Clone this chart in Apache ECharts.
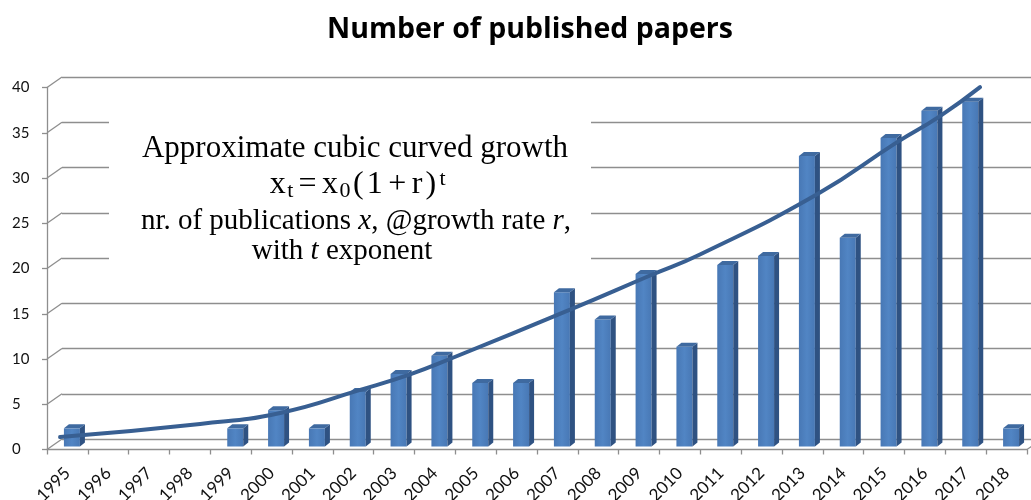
<!DOCTYPE html>
<html>
<head>
<meta charset="utf-8">
<script src="https://cdn.jsdelivr.net/npm/echarts@6/dist/echarts.min.js"></script>
<style>html,body{margin:0;padding:0;background:#fff}#c{width:1031px;height:500px}</style>
</head>
<body>
<div id="c"></div>
<script>
const categories = ['1995','1996','1997','1998','1999','2000','2001','2002','2003','2004','2005','2006','2007','2008','2009','2010','2011','2012','2013','2014','2015','2016','2017','2018'];
const papers = [2,0,0,0,2,4,2,6,8,10,7,7,17,14,19,11,20,21,32,23,34,37,38,2];
const yMin = 0, yMax = 40, yStep = 5;
const trendYears  = [1994.71, 1998.14, 2000.10, 2002.06, 2003.28, 2004.33, 2007.20, 2009.16, 2010.38, 2013.25, 2015.21, 2016.26, 2017.24];
const trendValues = [1.05, 2.49, 3.70, 6.24, 7.95, 9.78, 15.08, 18.84, 21.16, 27.79, 33.54, 36.41, 39.6];
const titleText = 'Number of published papers';

const yTickVals = [];
for (let v = yMin; v <= yMax; v += yStep) yTickVals.push(v);

const chart = echarts.init(document.getElementById('c'));
const gridColor = '#8e8e8e';
const DX = 15, DY = 10.5;
const serif = '"Liberation Serif"';

chart.setOption({
  animation: false,
  grid: [
    {left: 62, top: 77, width: 980, height: 362, outerBoundsMode: 'none', containLabel: false},
    {left: 47, top: 87.5, width: 980, height: 362, outerBoundsMode: 'none', containLabel: false},
    {left: 51.5, top: 83.5, width: 980, height: 363, outerBoundsMode: 'none', containLabel: false}
  ],
  xAxis: [
    {gridIndex: 0, type: 'value', min: 0, max: categories.length, show: false},
    {gridIndex: 1, type: 'category', data: categories, boundaryGap: true,
      axisLine: {show: true, lineStyle: {color: gridColor, width: 1.3}},
      axisTick: {show: true, length: 5, interval: 0, lineStyle: {color: gridColor, width: 1.3}},
      axisLabel: {interval: 0, rotate: 45, margin: 21, fontSize: 17, color: '#111', fontFamily: 'Lato'},
      splitLine: {show: false}},
    {gridIndex: 2, type: 'category', data: categories, show: false},
    {gridIndex: 2, type: 'value', min: 1994.5, max: 2018.5, show: false}
  ],
  yAxis: [
    {gridIndex: 0, type: 'value', min: yMin, max: yMax, interval: yStep,
      axisLine: {show: false}, axisTick: {show: false}, axisLabel: {show: false},
      splitLine: {show: true, lineStyle: {color: gridColor, width: 1.3}}},
    {gridIndex: 1, type: 'value', min: yMin, max: yMax, interval: yStep,
      axisLine: {show: true, lineStyle: {color: gridColor, width: 1.3}},
      axisTick: {show: true, length: 5, lineStyle: {color: gridColor, width: 1.3}},
      axisLabel: {align: 'left', margin: 35, fontSize: 15, color: '#111', fontFamily: 'Lato'},
      splitLine: {show: false}},
    {gridIndex: 2, type: 'value', min: yMin, max: yMax, show: false}
  ],
  series: [
    {
      type: 'custom', xAxisIndex: 0, yAxisIndex: 0, silent: true, z: 1,
      data: yTickVals.map(v => [0, v]).concat([[categories.length, 0]]),
      renderItem: function (params, api) {
        const p = api.coord([api.value(0), api.value(1)]);
        return {type: 'line', shape: {x1: p[0] - DX, y1: p[1] + DY, x2: p[0], y2: p[1]},
          style: {stroke: gridColor, lineWidth: 1.3}};
      }
    },
    {
      type: 'custom', xAxisIndex: 2, yAxisIndex: 2, silent: true, z: 3,
      data: papers.map((v, i) => [i, v]),
      renderItem: function (params, api) {
        const v = api.value(1);
        if (!v) return null;
        const top = api.coord([api.value(0), v]);
        const bot = api.coord([api.value(0), 0]);
        const hw = 8, d = 5, dy = 4;
        const l = top[0] - hw, r = top[0] + hw, t = top[1], b = bot[1];
        return {type: 'group', children: [
          {type: 'rect', shape: {x: l, y: t, width: r - l, height: b - t},
            style: {fill: new echarts.graphic.LinearGradient(0, 0, 1, 0, [
              {offset: 0, color: '#4878b5'}, {offset: 0.5, color: '#5185c4'}, {offset: 1, color: '#4878b5'}])}},
          {type: 'polygon', shape: {points: [[r, t], [r + d, t - dy], [r + d, b - dy], [r, b]]},
            style: {fill: '#2f5282'}},
          {type: 'polygon', shape: {points: [[l, t], [l + d, t - dy], [r + d, t - dy], [r, t]]},
            style: {fill: '#3f6aa0'}}
        ]};
      }
    },
    {
      type: 'line', xAxisIndex: 3, yAxisIndex: 2, z: 5, smooth: 0.5, showSymbol: false, silent: true,
      data: trendYears.map((x, i) => [x, trendValues[i]]),
      lineStyle: {color: '#385f92', width: 4, cap: 'round'}
    }
  ],
  graphic: [
    {type: 'text', z: 20, style: {text: titleText, x: 530, y: 30, align: 'center', verticalAlign: 'middle',
      font: 'bold 28.5px "Open Sans"', fill: '#000'}},
    {type: 'rect', z: 10, shape: {x: 109, y: 113, width: 482, height: 155}, style: {fill: '#fff'}},
    {type: 'text', z: 20, style: {text: 'Approximate cubic curved growth', x: 355, y: 149, align: 'center', verticalAlign: 'middle',
      font: '31px ' + serif, fill: '#000'}},
    {type: 'text', z: 20, style: {text: '{a|x}{sub|t}{e|=}{a|x}{sub|0}{a|(}{a|1}{e|+}{a|r}{a|)}{sup|t}', x: 357, y: 185, align: 'center', verticalAlign: 'middle',
      font: '32px ' + serif, fill: '#000',
      rich: {a: {font: '32px ' + serif, lineHeight: 34, padding: [0, 1.5, 0, 1.5]},
             e: {font: '32px ' + serif, lineHeight: 34, padding: [0, 4, 0, 4]},
             sub: {font: '22px ' + serif, verticalAlign: 'bottom', lineHeight: 30, padding: [0, 1, 0, 0]},
             sup: {font: '22px ' + serif, verticalAlign: 'top', lineHeight: 30, padding: [0, 0, 0, 2]}}}},
    {type: 'text', z: 20, style: {text: 'nr. of publications {i|x}, @growth rate {i|r},', x: 356, y: 221, align: 'center', verticalAlign: 'middle',
      font: '29px ' + serif, fill: '#000',
      rich: {i: {font: 'italic 29px ' + serif}}}},
    {type: 'text', z: 20, style: {text: 'with {i|t} exponent', x: 342, y: 251, align: 'center', verticalAlign: 'middle',
      font: '29px ' + serif, fill: '#000',
      rich: {i: {font: 'italic 29px ' + serif}}}}
  ]
});
</script>
</body>
</html>
